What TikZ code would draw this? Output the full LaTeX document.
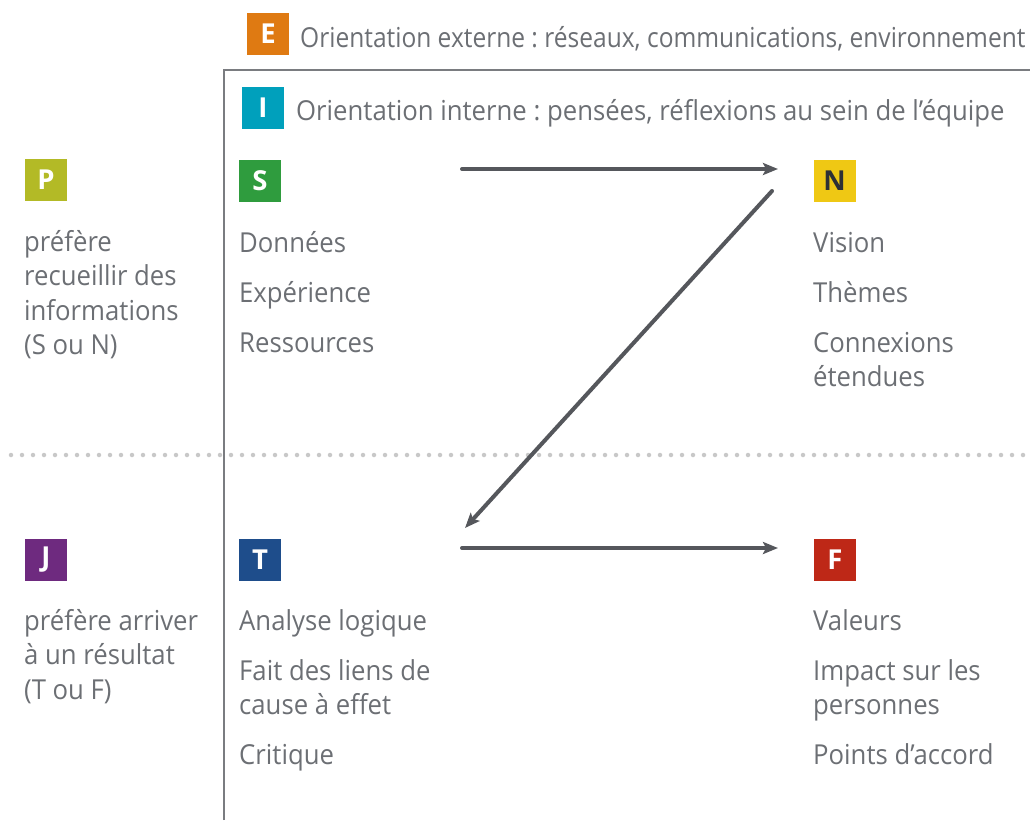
\documentclass[tikz,border=0pt]{standalone}
\usepackage{fontspec}
\setmainfont{Open Sans}[FakeStretch=0.935]
\newfontfamily\narrowfont{Open Sans}[FakeStretch=0.892]
\newfontfamily\boxfont{Open Sans}
\usetikzlibrary{arrows.meta}
\frenchspacing
\definecolor{txt}{HTML}{6C6F74}
\definecolor{arrowc}{HTML}{55575C}
\definecolor{framec}{HTML}{7A7C80}
\definecolor{dotc}{HTML}{C8C8C8}
\definecolor{cE}{HTML}{DF7A12}
\definecolor{cI}{HTML}{00A0BC}
\definecolor{cP}{HTML}{B3BA26}
\definecolor{cS}{HTML}{2F9C3E}
\definecolor{cN}{HTML}{EFC814}
\definecolor{cJ}{HTML}{6E2A7F}
\definecolor{cT}{HTML}{1E4D8B}
\definecolor{cF}{HTML}{BE2817}
\definecolor{dark}{HTML}{2D3035}
\begin{document}
\begin{tikzpicture}[x=1pt,y=-1pt,
  letterbox/.style={minimum size=42pt, inner sep=0pt, text=white, font=\boxfont\bfseries\fontsize{27.5}{32}\selectfont},
  body/.style={anchor=base west, inner sep=0pt, text=txt, font=\fontsize{27.5}{34.5}\selectfont, align=left},
  flow/.style={draw=arrowc, line width=4pt, line cap=round, -{Stealth[length=15pt,width=12pt,inset=3pt]}},
  frameline/.style={draw=framec, line width=1.6pt},
  sepline/.style={draw=dotc, line width=4.5pt, line cap=round, dash pattern=on 0pt off 11pt}]
\useasboundingbox (0,0) rectangle (1030,820);

% frame and separator
\draw[frameline] (224,820) -- (224,70) -- (1030,70);
\draw[sepline] (11,455) -- (1030,455);

% top labels
\node[letterbox, fill=cE] (E) at (268,33.5) {E};
\node[body, font=\narrowfont\fontsize{27.5}{34.5}\selectfont] (Etxt) at (300,47) {Orientation externe : réseaux, communications, environnement};
\node[letterbox, fill=cI] (I) at (263,108) {I};
\node[body] (Itxt) at (296,120) {Orientation interne : pensées, réflexions au sein de l’équipe};

% upper row (base anchor = baseline of last line)
\node[letterbox, fill=cP] (P) at (46,180) {P};
\node[body] (Ptxt) at (24,354.5) {préfère\\recueillir des\\informations\\(S ou N)};

\node[letterbox, fill=cS] (S) at (260,181) {S};
\node[body] (S1) at (239,252) {Données};
\node[body] (S2) at (239,302) {Expérience};
\node[body] (S3) at (239,352) {Ressources};

\node[letterbox, fill=cN, text=dark] (N) at (834.5,181) {N};
\node[body] (N1) at (813,252) {Vision};
\node[body] (N2) at (813,302) {Thèmes};
\node[body] (N3) at (813,386.5) {Connexions\\étendues};

% lower row
\node[letterbox, fill=cJ] (J) at (46,560) {J};
\node[body] (Jtxt) at (24,699) {préfère arriver\\à un résultat\\(T ou F)};

\node[letterbox, fill=cT] (T) at (260,560) {T};
\node[body] (T1) at (239,630) {Analyse logique};
\node[body] (T2) at (239,714.5) {Fait des liens de\\cause à effet};
\node[body] (T3) at (239,764.5) {Critique};

\node[letterbox, fill=cF] (F) at (835,560) {F};
\node[body] (F1) at (813,630) {Valeurs};
\node[body] (F2) at (813,714.5) {Impact sur les\\personnes};
\node[body] (F3) at (813,764.5) {Points d’accord};

% arrows
\coordinate (a1s) at (462,169);
\coordinate (a1e) at (778,169);
\coordinate (a2s) at (772,191);
\coordinate (a2e) at (465,528);
\coordinate (a3s) at (462,548);
\coordinate (a3e) at (778,548);
\draw[flow] (a1s) -- (a1e);
\draw[flow] (a2s) -- (a2e);
\draw[flow] (a3s) -- (a3e);
\end{tikzpicture}
\end{document}
